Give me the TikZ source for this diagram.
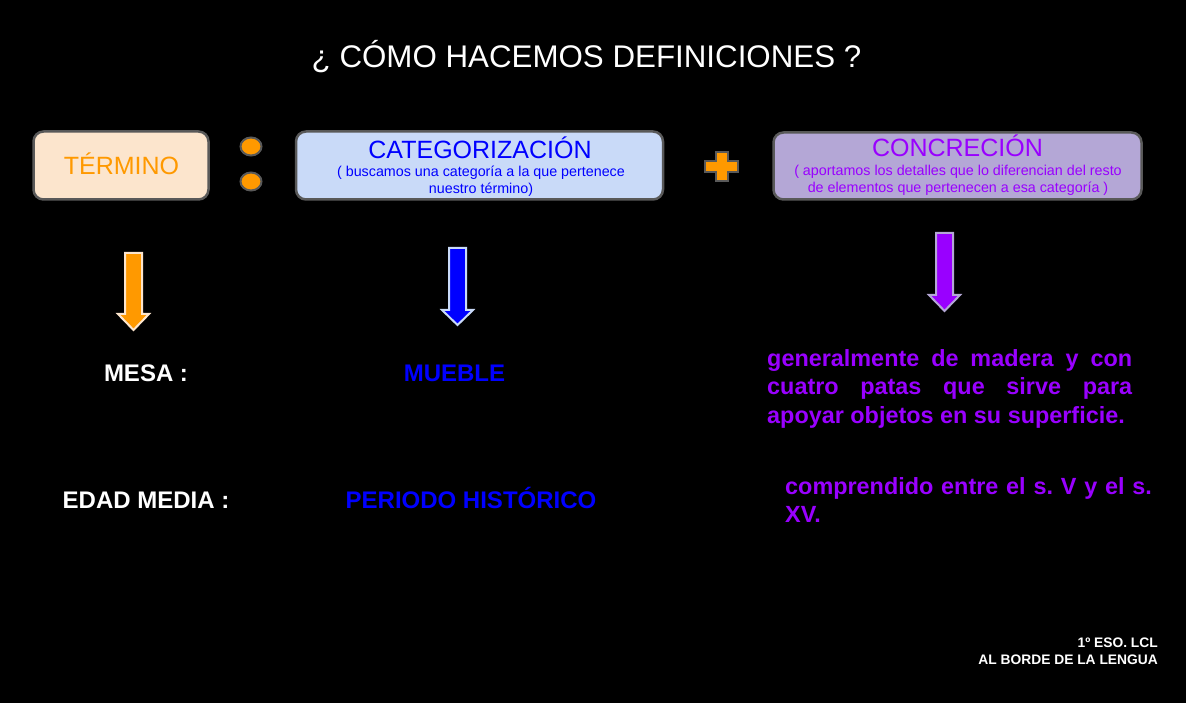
\documentclass[tikz,border=0pt]{standalone}
\usepackage{fontspec}
\setmainfont{Liberation Sans}
\usetikzlibrary{positioning, shapes.geometric}
\definecolor{termfill}{HTML}{FCE5CD}
\definecolor{termtext}{HTML}{FF9900}
\definecolor{catfill}{HTML}{C9DAF8}
\definecolor{cattext}{HTML}{0000FF}
\definecolor{concfill}{HTML}{B4A7D6}
\definecolor{conctext}{HTML}{9900FF}
\definecolor{boxedge}{HTML}{595959}
\hyphenpenalty=10000
\tolerance=9999
\hbadness=10000

\begin{document}
\begin{tikzpicture}[
  x=1pt, y=-1pt,
  box/.style={draw=boxedge, line width=2.5pt, rounded corners=10pt, inner sep=0pt},
  head/.style={font=\fontsize{25}{28}\selectfont, anchor=base, inner sep=0pt},
  note/.style={font=\fontsize{14.3}{17}\selectfont, align=center, anchor=base, inner sep=0pt},
  word/.style={font=\fontsize{24}{28.5}\selectfont\bfseries\frenchspacing, anchor=base, inner sep=0pt},
  defn/.style={font=\fontsize{23.4}{28.5}\selectfont\bfseries\frenchspacing, conctext,
    anchor=base west, inner sep=0pt},
  dot/.style={ellipse, draw=boxedge, line width=2pt, fill=termtext,
    minimum width=21pt, minimum height=18pt, inner sep=0pt}
]
  \useasboundingbox (0,0) rectangle (1186,703);
  \fill[black] (0,0) rectangle (1186,703);

  % Title
  \node[font=\fontsize{31.3}{34}\selectfont, white, anchor=base, inner sep=0pt]
    (title) at (586.5,68) {¿ CÓMO HACEMOS DEFINICIONES ?};

  % Boxes of the definition scheme
  \node[box, fill=termfill, minimum width=175pt, minimum height=68pt]
    (term) at (121,165.5) {};
  \node[head, termtext] (termlbl) at (121.5,175) {TÉRMINO};

  \node[dot] (dota) at (251,146.5) {};
  \node[dot] (dotb) at (251,181.5) {};

  \node[box, fill=catfill, minimum width=367pt, minimum height=68pt]
    (cat) at (479.5,165.5) {};
  \node[head, cattext] (catlbl) at (480,159) {CATEGORIZACIÓN};
  % base of a two-line node is its last line
  \node[note, cattext] (catnote) at (481,194)
    {( buscamos una categoría a la que pertenece\\nuestro término)};

  % Plus sign
  \draw[boxedge, line width=2pt, fill=termtext]
    (715.5,152) -- (727.5,152) -- (727.5,161) -- (738,161) -- (738,172)
    -- (727.5,172) -- (727.5,181) -- (715.5,181) -- (715.5,172) -- (705,172)
    -- (705,161) -- (715.5,161) -- cycle;

  \node[box, fill=concfill, minimum width=368pt, minimum height=67pt]
    (conc) at (957.5,166) {};
  \node[head, conctext] (conclbl) at (957.5,157) {CONCRECIÓN};
  \node[note, conctext] (concnote) at (958,193)
    {( aportamos los detalles que lo diferencian del resto\\de elementos que pertenecen a esa categoría )};

  % Down arrows
  \foreach \x/\ytop/\yhead/\ytip/\fc/\ec in {
      133.5/253/314/330/termtext/termfill,
      457.5/248/310/325/cattext/catfill,
      944.5/233/295/311/conctext/concfill} {
    \draw[line width=2pt, draw=\ec, fill=\fc]
      (\x-8.5,\ytop) -- (\x+8.5,\ytop) -- (\x+8.5,\yhead) -- (\x+15.5,\yhead)
      -- (\x,\ytip) -- (\x-15.5,\yhead) -- (\x-8.5,\yhead) -- cycle;
  }

  % Examples
  \node[word, white] (mesa) at (146,381) {MESA :};
  \node[word, cattext] (mueble) at (454.5,381) {MUEBLE};
  \node[defn, text width=365pt, align=justify] (mesadef) at (767,366)
    {generalmente de madera y con cuatro patas que sirve para apoyar objetos en su superficie.};

  \node[defn, text width=380pt, align=left] (edaddef) at (785,494)
    {comprendido entre el s. V y el s. XV.};
  \node[word, white] (edad) at (146,508) {EDAD MEDIA :};
  \node[word, cattext] (periodo) at (471,508) {PERIODO HISTÓRICO};

  % Credits
  \node[font=\fontsize{13.8}{17}\selectfont\bfseries, white, align=right,
    anchor=base east, inner sep=0pt] (credit) at (1158,664)
    {1º ESO. LCL\\AL BORDE DE LA LENGUA};
\end{tikzpicture}
\end{document}
